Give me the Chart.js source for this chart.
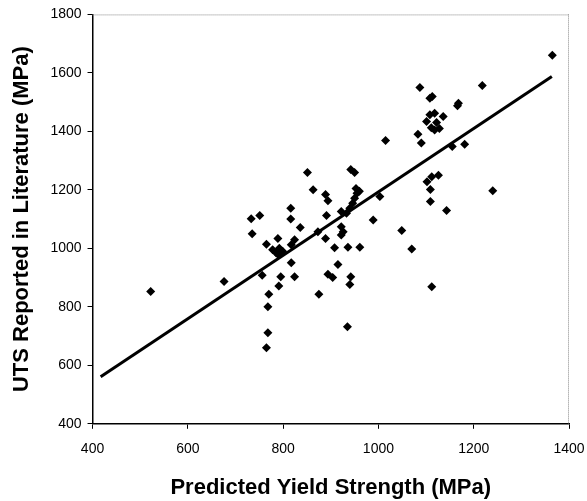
<!DOCTYPE html>
<html>
<head>
<meta charset="utf-8">
<script src="https://cdn.jsdelivr.net/npm/chart.js@4.4.1/dist/chart.umd.min.js"></script>
<style>
  html, body { margin: 0; padding: 0; background: #fff; }
  #wrap { width: 587px; height: 501px; }
</style>
</head>
<body>
<div id="wrap"><canvas id="c" width="587" height="501"></canvas></div>
<script>
// Predicted yield strength (MPa)
const predictedYS = [
  522, 676, 733, 751, 735, 756, 770, 768, 768, 765,
  765, 789, 778, 785, 792, 799, 790, 817, 824, 836,
  817, 795, 791, 824, 816, 816, 851, 863, 889, 894,
  873, 889, 875, 894, 904, 891, 908, 915, 922, 933,
  922, 926, 922, 936, 961, 942, 940, 935, 942, 950,
  953, 960, 955, 950, 946, 940, 989, 1003, 1015, 1049,
  1070, 1112, 1087, 1218, 1108, 1113, 1168, 1166, 1108, 1118,
  1136, 1101, 1111, 1122, 1118, 1128, 1083, 1090, 1155, 1181,
  1102, 1112, 1126, 1109, 1109, 1143, 1240, 1365
];
// UTS reported in literature (MPa)
const reportedUTS = [
  852, 887, 1101, 1112, 1050, 908, 843, 800, 711, 660,
  1014, 1034, 995, 985, 1000, 990, 978, 1012, 1029, 1071,
  951, 903, 871, 903, 1137, 1100, 1259, 1200, 1184, 1163,
  1057, 1034, 843, 911, 900, 1112, 1002, 945, 1126, 1120,
  1074, 1057, 1046, 1004, 1004, 903, 876, 732, 1270, 1259,
  1205, 1195, 1188, 1171, 1154, 1137, 1097, 1177, 1369, 1061,
  998, 869, 1550, 1557, 1513, 1519, 1496, 1488, 1457, 1462,
  1451, 1434, 1412, 1430, 1405, 1410, 1390, 1360, 1348, 1356,
  1228, 1245, 1250, 1201, 1160, 1129, 1197, 1660
];
// Linear fit end points
const fitX = [417, 1364];
const fitY = [561, 1588];

const xTicks = [400, 600, 800, 1000, 1200, 1400];
const yTicks = [400, 600, 800, 1000, 1200, 1400, 1600, 1800];

const points = predictedYS.map((x, i) => ({ x: x, y: reportedUTS[i] }));
const fitLine = fitX.map((x, i) => ({ x: x, y: fitY[i] }));

const frame = {
  id: 'frame',
  afterDatasetsDraw(chart) {
    const { ctx, chartArea: a } = chart;
    ctx.save();
    ctx.strokeStyle = '#888';
    ctx.lineWidth = 1;
    ctx.setLineDash([1, 1]);
    ctx.beginPath();
    ctx.moveTo(a.left, a.top + 0.5);
    ctx.lineTo(a.right, a.top + 0.5);
    ctx.moveTo(a.right - 0.5, a.top);
    ctx.lineTo(a.right - 0.5, a.bottom);
    ctx.stroke();
    ctx.restore();
  }
};

const tickFont = { family: 'Liberation Sans', size: 14 };
const titleFont = { family: 'Liberation Sans', size: 22, weight: 'bold' };

new Chart(document.getElementById('c'), {
  type: 'scatter',
  data: {
    datasets: [
      {
        label: 'Data',
        data: points,
        pointStyle: 'rectRot',
        pointRadius: 4.5,
        backgroundColor: '#000',
        borderColor: '#000',
        borderWidth: 0
      },
      {
        label: 'Fit',
        data: fitLine,
        showLine: true,
        pointRadius: 0,
        borderColor: '#000',
        borderWidth: 3
      }
    ]
  },
  options: {
    responsive: false,
    animation: false,
    events: [],
    layout: { padding: { left: 9, top: 6, right: 0, bottom: 0 } },
    plugins: { legend: { display: false }, tooltip: { enabled: false } },
    scales: {
      x: {
        type: 'linear',
        min: 400, max: 1400,
        afterBuildTicks: (s) => { s.ticks = xTicks.map(v => ({ value: v })); },
        afterFit: (s) => { s.paddingRight = 18; },
        grid: { display: true, drawOnChartArea: false, drawTicks: true, tickLength: 5, color: '#000' },
        border: { display: true, color: '#000', width: 1.5 },
        ticks: { color: '#000', font: tickFont, padding: 12, maxRotation: 0, callback: (v) => String(v) },
        title: { display: true, text: 'Predicted Yield Strength (MPa)', color: '#000',
                 font: titleFont, padding: { top: 5, bottom: 0 } }
      },
      y: {
        type: 'linear',
        min: 400, max: 1800,
        afterBuildTicks: (s) => { s.ticks = yTicks.map(v => ({ value: v })); },
        grid: { display: true, drawOnChartArea: false, drawTicks: true, tickLength: 5, color: '#000' },
        border: { display: true, color: '#000', width: 1.5 },
        ticks: { color: '#000', font: tickFont, padding: 6, callback: (v) => String(v) },
        title: { display: true, text: 'UTS Reported in Literature (MPa)', color: '#000',
                 font: titleFont, padding: { top: 0, bottom: 9 } }
      }
    }
  },
  plugins: [frame]
});
</script>
</body>
</html>
